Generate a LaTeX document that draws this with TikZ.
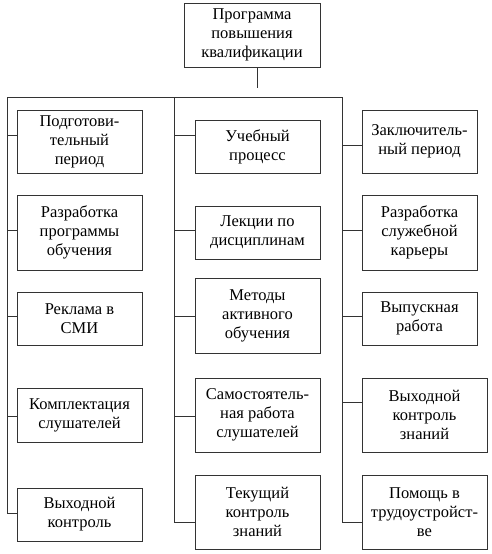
\documentclass[tikz,border=0pt]{standalone}
\usepackage{fontspec}
\setmainfont{Liberation Serif}
\usetikzlibrary{positioning}

\begin{document}
\begin{tikzpicture}[x=1pt, y=-1pt, line width=1pt, text centered,
                    font=\fontsize{16.5}{19}\selectfont]
    \tikzstyle{blok} = [rectangle, draw=black!80, fill=white, align=center,
                        minimum width=125pt, inner sep=0pt]
    \tikzstyle{wire} = [draw=black!80, line width=1pt]

    \useasboundingbox (0,0) rectangle (491,554);

    \node (top) [blok, minimum width=136pt, minimum height=64pt] at (252,35)
          {Программа\\повышения\\квалификации};

    \node (L1) [blok, minimum height=63pt] at (79.5,141.5) {Подготови-\\тельный\\период};
    \node (L2) [blok, minimum height=75pt] at (79.5,232.5) {Разработка\\программы\\обучения};
    \node (L3) [blok, minimum height=53pt] at (79.5,318.5) {Реклама в\\СМИ};
    \node (L4) [blok, minimum height=54pt] at (79.5,415)   {Комплектация\\слушателей};
    \node (L5) [blok, minimum height=53pt] at (79.5,514.5) {Выходной\\контроль};

    \node (M1) [blok, minimum height=53pt] at (257.5,146.5) {Учебный\\процесс};
    \node (M2) [blok, minimum height=53pt] at (257.5,232.5) {Лекции по\\дисциплинам};
    \node (M3) [blok, minimum height=75pt] at (257.5,315.5) {Методы\\активного\\обучения};
    \node (M4) [blok, minimum height=74pt] at (257.5,415)   {Самостоятель-\\ная работа\\слушателей};
    \node (M5) [blok, minimum height=74pt] at (257.5,512)   {Текущий\\контроль\\знаний};

    \node (R1) [blok, minimum width=115pt, minimum height=63pt] at (419.5,141.5) {Заключитель-\\ный период};
    \node (R2) [blok, minimum width=115pt, minimum height=75pt] at (419.5,232.5) {Разработка\\служебной\\карьеры};
    \node (R3) [blok, minimum width=115pt, minimum height=53pt] at (419.5,318.5) {Выпускная\\работа};
    \node (R4) [blok, minimum height=74pt] at (424.5,415) {Выходной\\контроль\\знаний};
    \node (R5) [blok, minimum height=74pt] at (424.5,512) {Помощь в\\трудоустройст-\\ве};

    \coordinate (topend) at (257,88);
    \coordinate (busL) at (7,97);
    \coordinate (busM) at (174,97);
    \coordinate (busR) at (342,97);

    \coordinate (l1) at (7,135);   \coordinate (m1) at (174,135);  \coordinate (r1) at (342,145);
    \coordinate (l2) at (7,230);   \coordinate (m2) at (174,230);  \coordinate (r2) at (342,230);
    \coordinate (l3) at (7,316);   \coordinate (m3) at (174,316);  \coordinate (r3) at (342,316);
    \coordinate (l4) at (7,416);   \coordinate (m4) at (174,416);  \coordinate (r4) at (342,402);
    \coordinate (l5) at (7,513);   \coordinate (m5) at (174,522);  \coordinate (r5) at (342,522);

    \draw [wire] (top.south -| topend) -- (topend);
    \draw [wire] (l5) -- (busL) -- (busR) -- (r5);
    \draw [wire] (busM) -- (m5);

    \foreach \i in {1,...,5} {
      \draw [wire] (l\i) -- (l\i -| L\i.west);
      \draw [wire] (m\i) -- (m\i -| M\i.west);
      \draw [wire] (r\i) -- (r\i -| R\i.west);
    }
\end{tikzpicture}
\end{document}
